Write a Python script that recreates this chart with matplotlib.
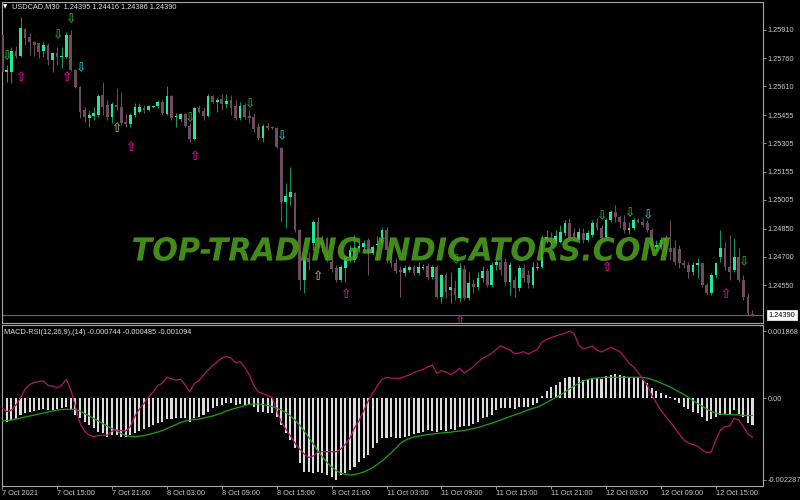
import matplotlib
matplotlib.use('Agg')
import matplotlib.pyplot as plt
import numpy as np
from matplotlib.textpath import TextPath
from matplotlib.patches import PathPatch
from matplotlib.font_manager import FontProperties
from matplotlib.transforms import Affine2D

plt.rcParams['font.family'] = ['Liberation Sans', 'DejaVu Sans']

# USDCAD M30 candles, prices in points (1e-5)
opens = [125883, 125686, 125686, 125798, 125771, 125915, 125873, 125846, 125841, 125798,
         125830, 125750, 125787, 125766, 125766, 125883, 125697, 125606, 125483, 125441,
         125451, 125457, 125563, 125510, 125446, 125510, 125499, 125419, 125409, 125457,
         125473, 125494, 125483, 125499, 125505, 125526, 125462, 125558, 125446, 125435,
         125462, 125398, 125329, 125494, 125478, 125451, 125558, 125526, 125542, 125515,
         125537, 125505, 125441, 125510, 125451, 125446, 125393, 125334, 125398, 125393,
         125387, 125281, 124993, 125019, 125041, 124843, 124577, 124694, 124774, 124886,
         124779, 124801, 124673, 124641, 124577, 124641, 124694, 124683, 124747, 124753,
         124790, 124721, 124763, 124774, 124843, 124737, 124667, 124630, 124614, 124630,
         124646, 124614, 124641, 124651, 124593, 124646, 124486, 124603, 124523, 124534,
         124481, 124635, 124481, 124555, 124539, 124587, 124625, 124550, 124657, 124673,
         124673, 124566, 124577, 124534, 124641, 124603, 124550, 124641, 124646, 124790,
         124801, 124774, 124779, 124827, 124881, 124827, 124790, 124827, 124790, 124817,
         124881, 124854, 124806, 124897, 124939, 124913, 124886, 124843, 124854, 124897,
         124886, 124881, 124843, 124753, 124753, 124801, 124747, 124747, 124742, 124667,
         124657, 124619, 124657, 124667, 124550, 124507, 124603, 124699, 124747, 124646,
         124630, 124699, 124577, 124486, 124395]
highs = [125894, 125723, 125819, 125825, 125979, 125921, 125894, 125851, 125841, 125846,
         125841, 125793, 125819, 125819, 125899, 125910, 125702, 125611, 125499, 125483,
         125499, 125569, 125633, 125537, 125526, 125601, 125579, 125467, 125467, 125521,
         125521, 125510, 125510, 125510, 125537, 125537, 125611, 125563, 125467, 125467,
         125467, 125414, 125499, 125510, 125499, 125569, 125563, 125547, 125569, 125569,
         125563, 125537, 125526, 125521, 125483, 125467, 125414, 125409, 125414, 125398,
         125393, 125286, 125094, 125179, 125046, 124849, 124710, 124726, 124897, 124913,
         124817, 124806, 124710, 124657, 124657, 124710, 124763, 124817, 124790, 124790,
         124801, 124763, 124811, 124854, 124859, 124747, 124694, 124651, 124657, 124657,
         124657, 124673, 124662, 124667, 124657, 124657, 124609, 124619, 124619, 124577,
         124667, 124657, 124619, 124582, 124619, 124651, 124641, 124673, 124710, 124737,
         124694, 124673, 124598, 124657, 124662, 124630, 124673, 124673, 124817, 124843,
         124833, 124843, 124870, 124897, 124907, 124854, 124854, 124854, 124843, 124897,
         124907, 124870, 124907, 124950, 124977, 124923, 124923, 124886, 124907, 124907,
         124907, 124897, 124854, 124790, 124806, 124817, 124897, 124790, 124763, 124683,
         124673, 124673, 124694, 124673, 124561, 124614, 124673, 124843, 124779, 124817,
         124801, 124747, 124603, 124507, 124416]
lows = [125675, 125633, 125627, 125761, 125766, 125830, 125777, 125771, 125761, 125766,
        125723, 125686, 125723, 125707, 125761, 125691, 125601, 125441, 125419, 125393,
        125430, 125446, 125457, 125430, 125414, 125483, 125403, 125393, 125393, 125446,
        125467, 125467, 125478, 125494, 125494, 125457, 125457, 125430, 125393, 125419,
        125393, 125313, 125323, 125467, 125430, 125446, 125521, 125473, 125483, 125494,
        125457, 125430, 125430, 125435, 125414, 125366, 125323, 125313, 125377, 125382,
        125281, 124886, 124854, 124977, 124833, 124523, 124507, 124630, 124737, 124753,
        124726, 124673, 124619, 124566, 124566, 124566, 124673, 124673, 124726, 124726,
        124603, 124710, 124683, 124763, 124667, 124646, 124614, 124486, 124598, 124619,
        124603, 124603, 124630, 124577, 124582, 124481, 124454, 124481, 124454, 124470,
        124459, 124470, 124470, 124507, 124523, 124566, 124539, 124539, 124630, 124603,
        124550, 124497, 124486, 124518, 124566, 124534, 124534, 124630, 124641, 124774,
        124758, 124763, 124774, 124811, 124790, 124785, 124774, 124774, 124779, 124806,
        124843, 124790, 124790, 124886, 124886, 124854, 124827, 124822, 124843, 124881,
        124859, 124833, 124737, 124726, 124742, 124726, 124683, 124657, 124641, 124641,
        124587, 124603, 124587, 124539, 124497, 124497, 124587, 124673, 124630, 124577,
        124619, 124566, 124470, 124390, 124386]
closes = [125686, 125697, 125798, 125771, 125921, 125867, 125846, 125830, 125793, 125830,
          125750, 125787, 125766, 125771, 125883, 125697, 125606, 125473, 125446, 125457,
          125467, 125558, 125499, 125446, 125515, 125499, 125414, 125409, 125457, 125499,
          125499, 125483, 125505, 125505, 125526, 125467, 125558, 125441, 125451, 125462,
          125398, 125329, 125494, 125473, 125451, 125558, 125526, 125537, 125515, 125531,
          125494, 125441, 125505, 125446, 125441, 125382, 125334, 125398, 125387, 125387,
          125286, 124993, 125025, 125046, 124843, 124577, 124694, 124673, 124886, 124779,
          124763, 124683, 124635, 124577, 124646, 124699, 124737, 124747, 124758, 124774,
          124721, 124753, 124769, 124843, 124737, 124667, 124625, 124619, 124641, 124646,
          124614, 124646, 124646, 124593, 124646, 124486, 124603, 124513, 124539, 124497,
          124641, 124481, 124561, 124539, 124587, 124625, 124550, 124657, 124673, 124630,
          124566, 124657, 124534, 124641, 124587, 124561, 124646, 124646, 124790, 124806,
          124774, 124811, 124833, 124881, 124801, 124806, 124833, 124790, 124827, 124881,
          124854, 124801, 124897, 124939, 124913, 124886, 124843, 124854, 124897, 124886,
          124870, 124843, 124753, 124763, 124790, 124737, 124726, 124673, 124667, 124657,
          124619, 124657, 124667, 124550, 124507, 124603, 124667, 124747, 124646, 124619,
          124699, 124577, 124486, 124401, 124390]

# MACD-RSI sub window, values in 1e-6
macd_hist = [-614, -661, -614, -586, -474, -410, -382, -354, -335, -307,
             -335, -335, -315, -279, -243, -335, -474, -558, -661, -753,
             -837, -940, -977, -1080, -1032, -1032, -1080, -1088, -1032, -977,
             -912, -865, -801, -753, -689, -661, -586, -586, -558, -558,
             -558, -661, -558, -530, -474, -382, -279, -223, -195, -148,
             -140, -195, -167, -195, -167, -251, -382, -382, -410, -410,
             -522, -753, -977, -1172, -1395, -1814, -2056, -2056, -2084, -2056,
             -2084, -2148, -2212, -2287, -2148, -2084, -2009, -1917, -1777, -1682,
             -1590, -1403, -1264, -1124, -1124, -1080, -1124, -1124, -1080, -1060,
             -1004, -985, -940, -893, -912, -940, -893, -912, -873, -893,
             -817, -781, -781, -725, -661, -566, -522, -474, -335, -287,
             -287, -287, -315, -259, -243, -243, -195, -148, 56, 195,
             307, 363, 446, 550, 578, 578, 594, 502, 522, 550,
             550, 522, 614, 642, 670, 642, 614, 578, 550, 550,
             502, 427, 271, 204, 148, 84, 28, -56, -148, -251,
             -315, -391, -419, -530, -642, -578, -530, -483, -438, -438,
             -343, -438, -530, -698, -744]
macd_signal = [-642, -628, -614, -586, -558, -530, -502, -474, -446, -419,
               -391, -363, -335, -321, -315, -315, -321, -363, -432, -502,
               -572, -642, -711, -781, -851, -921, -990, -1046, -1074, -1080,
               -1066, -1046, -1018, -985, -949, -907, -851, -795, -739, -684,
               -642, -614, -600, -586, -558, -530, -502, -460, -419, -363,
               -321, -287, -251, -209, -176, -167, -167, -181, -209, -237,
               -279, -335, -405, -502, -614, -753, -921, -1102, -1283, -1479,
               -1646, -1800, -1925, -2023, -2093, -2134, -2148, -2134, -2106, -2065,
               -2009, -1939, -1855, -1758, -1646, -1535, -1409, -1269, -1186, -1130,
               -1088, -1060, -1041, -1018, -1004, -990, -977, -963, -954, -935,
               -921, -907, -879, -851, -823, -781, -739, -706, -656, -614,
               -566, -516, -474, -427, -377, -335, -287, -251, -195, -126,
               -56, 14, 84, 167, 251, 335, 405, 474, 516, 544,
               558, 572, 578, 578, 578, 578, 578, 578, 578, 578,
               572, 558, 516, 474, 419, 363, 307, 237, 167, 98,
               14, -70, -148, -223, -307, -377, -419, -446, -455, -460,
               -466, -474, -483, -494, -485]
rsi_line = [-279, -377, -335, -195, 0, 251, 377, 432, 460, 474,
            349, 335, 279, 363, 516, 223, -243, -698, -921, -1032,
            -1080, -1046, -1046, -1032, -921, -893, -907, -921, -801, -502,
            -307, -148, 28, 167, 349, 410, 578, 530, 502, 522,
            363, 176, 405, 488, 642, 781, 907, 1013, 1116, 1158,
            1116, 985, 1013, 865, 642, 349, 167, 126, 70, 20,
            -363, -670, -865, -1060, -1256, -1423, -1562, -1660, -1618, -1507,
            -1498, -1498, -1498, -1498, -1423, -1297, -1116, -837, -628, -363,
            -84, 140, 335, 522, 578, 558, 550, 550, 600, 642,
            711, 753, 801, 865, 921, 689, 762, 725, 656, 725,
            829, 698, 781, 873, 1004, 1108, 1172, 1247, 1353, 1451,
            1395, 1339, 1228, 1256, 1292, 1228, 1297, 1359, 1571, 1632,
            1688, 1730, 1772, 1805, 1868, 1800, 1479, 1367, 1409, 1451,
            1339, 1283, 1353, 1415, 1353, 1292, 1144, 968, 873, 711,
            530, 363, 70, -140, -349, -502, -670, -837, -1004, -1172,
            -1256, -1297, -1339, -1451, -1521, -1507, -1172, -893, -801, -781,
            -566, -614, -801, -1004, -1094]

# signal arrows (bar index, price)
up_bars = [4, 14, 28, 42, 75, 100, 132, 158]
up_prices = [1.25659, 1.25654, 1.25281, 1.25238, 1.24497, 1.24358, 1.24641, 1.24502]
olive_bars = [25, 69]
olive_prices = [1.25387, 1.24598]
down_bars = [1, 12, 15, 41, 54, 99, 131, 137, 162]
down_prices = [1.25766, 1.25878, 1.25963, 1.25435, 1.25510, 1.24678, 1.24913, 1.24929, 1.24667]
cyan_bars = [17, 61, 141]
cyan_prices = [1.25702, 1.25339, 1.24918]

price_ticks = [1.25910, 1.25760, 1.25610, 1.25455, 1.25305, 1.25155, 1.25005, 1.24850, 1.24700, 1.24550]
time_labels = ['7 Oct 2021', '7 Oct 15:00', '7 Oct 21:00', '8 Oct 03:00', '8 Oct 09:00', '8 Oct 15:00',
               '8 Oct 21:00', '11 Oct 03:00', '11 Oct 09:00', '11 Oct 15:00', '11 Oct 21:00',
               '12 Oct 03:00', '12 Oct 09:00', '12 Oct 15:00']
last_price = 1.24390

# colours
bg = 'black'
axis_col = '#a8a8a8'
text_col = '#c8c8c8'
bull_body = '#1de9a0'
bull_wick = '#15935f'
bear_col = '#6c4c5e'

o = np.array(opens) / 1e5
h = np.array(highs) / 1e5
l = np.array(lows) / 1e5
c = np.array(closes) / 1e5
idx = np.arange(len(o))

fig = plt.figure(figsize=(8, 5), dpi=100, facecolor=bg)
ax = fig.add_axes([2 / 800, 1 - 323 / 500, 761 / 800, 321 / 500])
ax2 = fig.add_axes([2 / 800, 1 - 486 / 500, 761 / 800, 161 / 500])

for a in (ax, ax2):
    a.set_facecolor(bg)
    for s in a.spines.values():
        s.set_color(axis_col)
        s.set_linewidth(0.8)
    a.set_xlim(-0.05, 166.3)
    a.yaxis.tick_right()
    a.tick_params(axis='y', colors=axis_col, labelcolor=text_col, labelsize=5.3,
                  length=2.2, width=0.6, pad=1.0)

# candles
up = c >= o
wick_cols = np.where(up, bull_wick, bear_col)
body_cols = np.where(up, bull_body, bear_col)
ax.vlines(idx, l, h, colors=wick_cols, linewidth=0.75, zorder=2)
ax.bar(idx, np.maximum(np.abs(c - o), 0.00004), bottom=np.minimum(o, c), width=0.6,
       color=body_cols, linewidth=0, zorder=3)

# bid line + label
ax.axhline(last_price, color='#7a5a6c', linewidth=0.8, zorder=1)
ax.annotate(f'{last_price:.5f}', xy=(1.0, last_price), xycoords=('axes fraction', 'data'),
            xytext=(4, 0), textcoords='offset points', va='center', ha='left',
            fontsize=5.3, color='black',
            bbox=dict(boxstyle='square,pad=0.25', fc='white', ec='white', lw=0.5),
            annotation_clip=False)

# arrows
for bars, prices, sym, col in [(up_bars, up_prices, '\u21e7', '#c0148a'),
                               (olive_bars, olive_prices, '\u21e7', '#9a9a55'),
                               (down_bars, down_prices, '\u21e9', '#229a22'),
                               (cyan_bars, cyan_prices, '\u21e9', '#20a8a8')]:
    for b, p in zip(bars, prices):
        ax.text(b, p, sym, color=col, fontsize=9, family='DejaVu Sans', fontweight='bold',
                ha='center', va='center', zorder=4, clip_on=True)

ax.set_ylim(1.243474, 1.260593)
ax.set_yticks(price_ticks)
ax.set_yticklabels([f'{t:.5f}' for t in price_ticks])
ax.set_xticks([])

# sub window
hist = np.array(macd_hist) * 1e-6
ax2.bar(idx, hist, width=0.45, color='#dcdcdc', linewidth=0, zorder=2)
ax2.plot(idx, np.array(macd_signal) * 1e-6, color='#1f9e1f', linewidth=0.9, zorder=3)
ax2.plot(idx, np.array(rsi_line) * 1e-6, color='#b0166a', linewidth=0.9, zorder=4)
ax2.set_ylim(-0.002455, 0.002037)
ax2.set_yticks([0.001868, 0.0, -0.002287])
ax2.set_yticklabels(['0.001868', '0.00', '-0.002287'])
ax2.set_xticks(np.arange(0, 12 * len(time_labels), 12))
ax2.set_xticklabels(time_labels)
ax2.tick_params(axis='x', colors=axis_col, labelcolor=text_col, labelsize=5.3,
                length=2.2, width=0.6, pad=1.0)
for lab in ax2.get_xticklabels():
    lab.set_ha('left')

# header texts
fig.text(5.5 / 800, 1 - 6.5 / 500, '\u25bc', fontsize=4, color='white', family='DejaVu Sans',
         ha='center', va='center')
fig.text(12 / 800, 1 - 7 / 500, 'USDCAD,M30  1.24395 1.24416 1.24386 1.24390',
         fontsize=5.3, color='#e0e0e0', ha='left', va='center')
fig.text(4 / 800, 1 - 332 / 500, 'MACD-RSI(12,26,9),(14) -0.000744 -0.000485 -0.001094',
         fontsize=5.3, color='#e0e0e0', ha='left', va='center')

# watermark, stretched to its box in pixel units
fp = FontProperties(family='DejaVu Sans', weight='bold', style='italic')
tp = TextPath((0, 0), 'TOP-TRADING-INDICATORS.COM', size=100, prop=fp)
bb = tp.get_extents()
x0, x1 = 133, 670
y0, y1 = 500 - 261, 500 - 237
fit = (Affine2D().translate(-bb.x0, -bb.y0)
       .scale((x1 - x0) / bb.width, (y1 - y0) / bb.height)
       .translate(x0, y0))
wm = PathPatch(fit.transform_path(tp), facecolor='#4c9f1e', edgecolor='none', alpha=0.88,
               transform=Affine2D().scale(1 / 100) + fig.dpi_scale_trans, zorder=10)
fig.add_artist(wm)

fig.savefig('out.png', dpi=100, facecolor=bg)
